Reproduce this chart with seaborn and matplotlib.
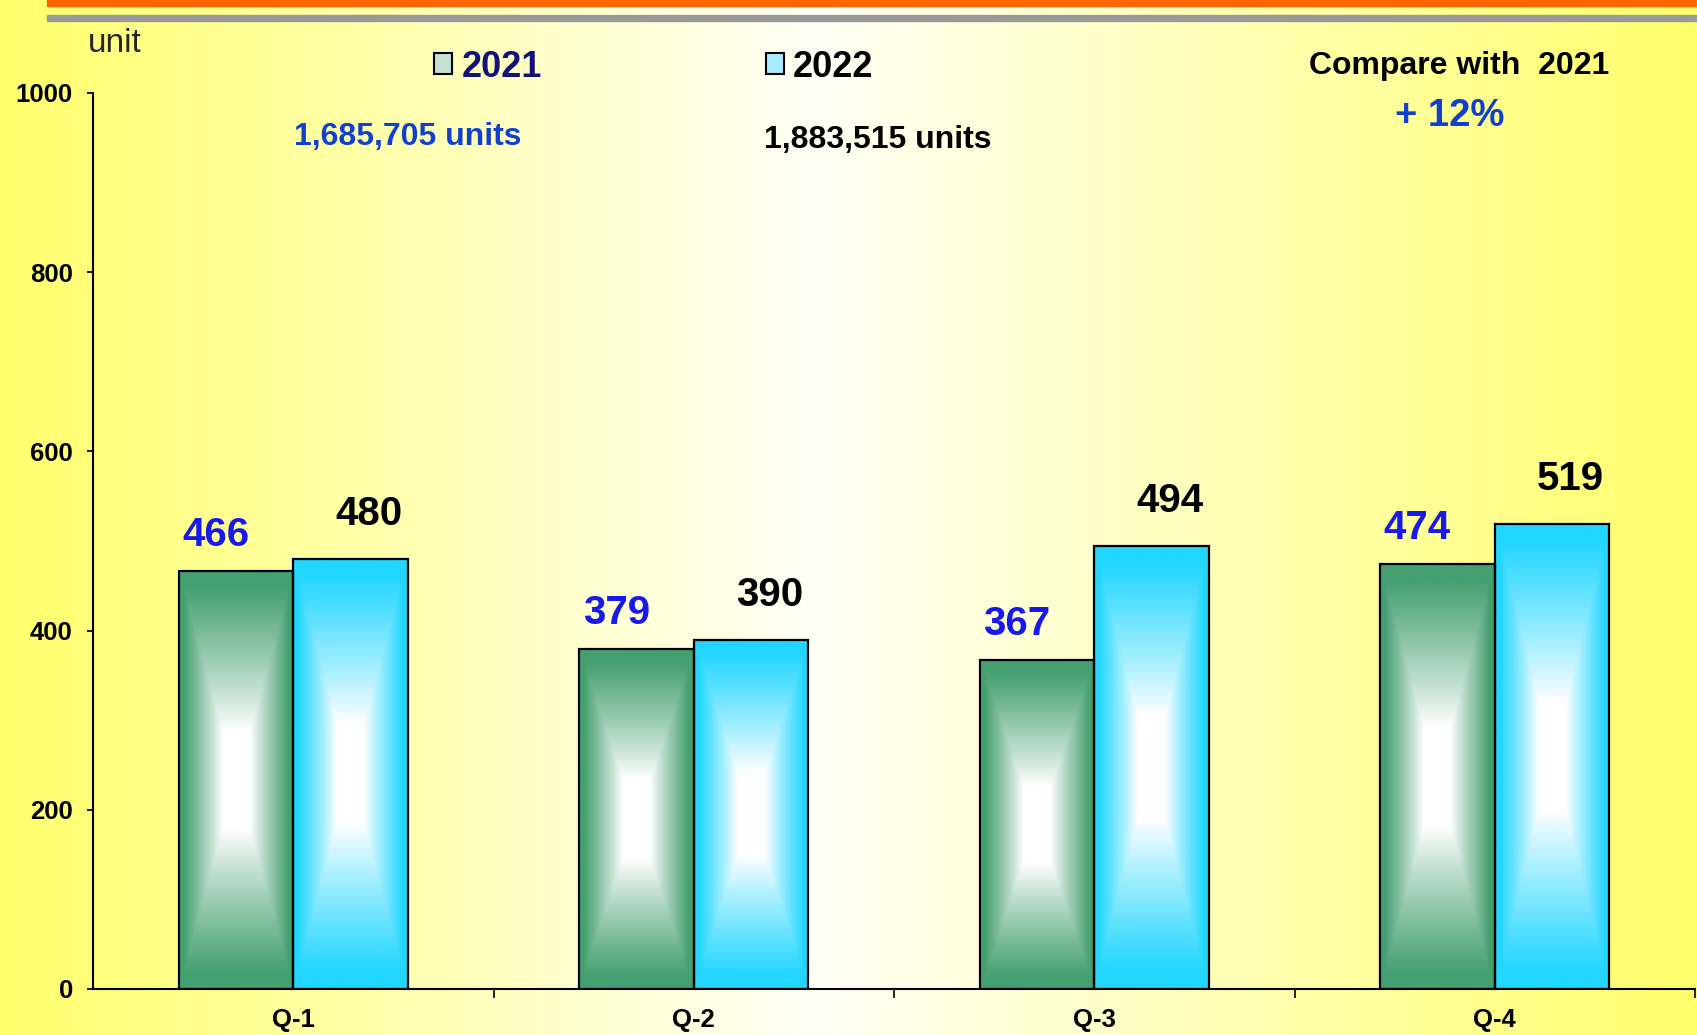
import numpy as np
import pandas as pd
import matplotlib.pyplot as plt
import seaborn as sns
from matplotlib.colors import to_rgb
from matplotlib.patches import Rectangle, Patch

# Dane (sprzedaż kwartalna w sztukach)
quarters = ['Q-1', 'Q-2', 'Q-3', 'Q-4']
units_2021 = [466, 379, 367, 474]
units_2022 = [480, 390, 494, 519]
years = ['2021', '2022']

total_2021 = '1,685,705 units'
total_2022 = '1,883,515 units'
compare_txt = 'Compare with  2021'
growth_txt = '+ 12%'

df = pd.DataFrame({
    'quarter': quarters * 2,
    'units': units_2021 + units_2022,
    'year': [years[0]] * len(quarters) + [years[1]] * len(quarters),
})

W, H = 1697, 1035
sns.set_theme(style='white')
plt.rcParams['font.family'] = ['Liberation Sans', 'DejaVu Sans']

fig = plt.figure(figsize=(W / 100, H / 100), dpi=100)

# tło: poziomy gradient żółty -> biały -> żółty
bg = fig.add_axes([0, 0, 1, 1], zorder=-10)
xs = np.linspace(0, 1, 800)
k = np.interp(xs, [0, 0.48, 1], [0, 1, 0])
yel = np.array(to_rgb('#ffff6c'))
wht = np.array(to_rgb('#fffff6'))
grad = yel + (wht - yel) * k[:, None]
bg.imshow(grad[None, :, :], extent=(0, W, H, 0), aspect='auto')
bg.add_patch(Rectangle((47, 0), W - 47, 6, color='#ff6600'))
bg.add_patch(Rectangle((47, 15), W - 47, 6, color='#999999'))
bg.set_xlim(0, W)
bg.set_ylim(H, 0)
bg.axis('off')

ax = fig.add_axes([93 / W, 46 / H, 1602 / W, 896 / H])
ax.set_facecolor('none')

colors = ['#45a070', '#22d6ff']
sns.barplot(data=df, x='quarter', y='units', hue='year', palette=colors,
            width=0.573, edgecolor='black', linewidth=1.6, ax=ax)


def bar_image(color, nx=120, ny=400):
    # gradient "od środka": biały w środku, kolor przy krawędziach
    dx = np.abs(np.linspace(-1, 1, nx))[None, :]
    dy = np.abs(np.linspace(-1, 1, ny))[:, None]
    t = np.maximum(dx, dy)
    f = np.clip((t - 0.24) / 0.68, 0, 1) ** 0.9
    c = np.array(to_rgb(color))
    return np.ones(3) + (c - np.ones(3)) * f[..., None]


for cont, col in zip(ax.containers, colors):
    img = bar_image(col)
    for bar in cont:
        x0, w, h = bar.get_x(), bar.get_width(), bar.get_height()
        im = ax.imshow(img, extent=(x0, x0 + w, 0, h), aspect='auto',
                       origin='lower', zorder=bar.get_zorder() - 0.1)
        im.set_clip_path(bar)
        bar.set_facecolor('none')

ax.set_xlim(-0.5, 3.5)
ax.set_ylim(0, 1000)
ax.set_yticks(range(0, 1001, 200))
ax.set_xlabel('')
ax.set_ylabel('')

# etykiety wartości
label_colors = ['#1818f0', 'black']
dx_lab = [-0.05, 0.045]
dy_lab = [28, 38]
for i, cont in enumerate(ax.containers):
    for bar in cont:
        v = bar.get_height()
        ax.text(bar.get_x() + bar.get_width() / 2 + dx_lab[i], v + dy_lab[i],
                f'{v:.0f}', ha='center', va='baseline', fontsize=29,
                fontweight='bold', color=label_colors[i])

# osie
sns.despine(ax=ax)
for s in ['left', 'bottom']:
    ax.spines[s].set_color('black')
    ax.spines[s].set_linewidth(1.5)
ax.tick_params(axis='y', which='major', length=4.5, width=1.3, color='black',
               direction='out', left=True, pad=10, labelsize=18.5)
ax.tick_params(axis='x', which='major', length=0, pad=14, labelsize=18.5)
ax.set_xticks([0.5, 1.5, 2.5, 3.5], minor=True)
ax.tick_params(axis='x', which='minor', length=6.5, width=1.2, color='black',
               direction='out', bottom=True)
for lab in ax.get_xticklabels() + ax.get_yticklabels():
    lab.set_fontweight('bold')
    lab.set_color('black')

# legenda
handles = [Patch(facecolor='#c4e2cf', edgecolor='black', linewidth=1.5),
           Patch(facecolor='#a8eaff', edgecolor='black', linewidth=1.5)]
leg = ax.legend(handles, years, loc='center left', bbox_to_anchor=(0.213, 1.029),
                ncol=2, frameon=False, fontsize=26, handlelength=0.5,
                handleheight=0.5, handletextpad=0.25, columnspacing=6.2,
                borderaxespad=0, borderpad=0)
for t, c in zip(leg.get_texts(), ['#12127a', 'black']):
    t.set_color(c)
    t.set_fontweight('bold')

# opisy
fig.text(88 / W, 1 - 44 / H, 'unit', ha='left', va='center', fontsize=24)
fig.text(408 / W, 1 - 137 / H, total_2021, ha='center', va='center',
         fontsize=23, fontweight='bold', color='#1040d0')
fig.text(878 / W, 1 - 140 / H, total_2022, ha='center', va='center',
         fontsize=23, fontweight='bold', color='black')
fig.text(1459 / W, 1 - 66 / H, compare_txt, ha='center', va='center',
         fontsize=23, fontweight='bold', color='black')
fig.text(1450 / W, 1 - 116 / H, growth_txt, ha='center', va='center',
         fontsize=27.5, fontweight='bold', color='#1040d0')

fig.savefig('out.png', dpi=100)
